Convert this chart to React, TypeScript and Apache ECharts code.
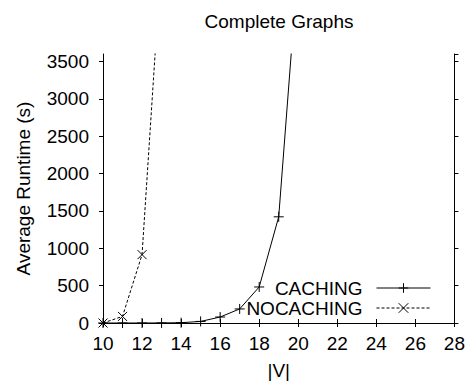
import React, { useEffect, useRef } from "react";
import * as echarts from "echarts";

const xCaching = [10, 11, 12, 13, 14, 15, 16, 17, 18, 19, 20];
const caching = [0, 0, 0, 1, 4, 21, 80, 188, 482, 1421, 4830];
const xNoCaching = [10, 11, 12, 13];
const noCaching = [0, 88, 915, 4930];

const FONT = "'Liberation Sans', Arial, sans-serif";
const FS = 19;

export default function App() {
  const ref = useRef<HTMLDivElement>(null);
  useEffect(() => {
    if (!ref.current) return;
    const chart = echarts.init(ref.current, null, { renderer: "svg" });
    const axisCommon = {
      axisLine: { show: true, lineStyle: { color: "#000", width: 1 } },
      axisTick: { show: true, length: 4, inside: false, lineStyle: { color: "#000", width: 1 } },
      splitLine: { show: false },
    };
    const plain = (v: number) => String(v);
    chart.setOption({
      animation: false,
      textStyle: { fontFamily: FONT, color: "#000" },
      graphic: [
        {
          type: "text",
          x: 279,
          y: 21.5,
          style: {
            text: "Complete Graphs",
            fill: "#000",
            font: `${FS}px ${FONT}`,
            textAlign: "center",
            textVerticalAlign: "middle",
          },
        },
      ],
      grid: { left: 103, right: 13, top: 54, bottom: 62, containLabel: false },
      legend: {
        orient: "vertical",
        align: "right",
        right: 37,
        top: 278,
        padding: 0,
        itemWidth: 54,
        itemHeight: 12,
        itemGap: 0,
        lineStyle: { width: 1 },
        itemStyle: { borderWidth: 1 },
        textStyle: { fontSize: FS, fontFamily: FONT, color: "#000", lineHeight: 20, padding: [0, 9, 0, 0] },
        data: ["CACHING", "NOCACHING"],
      },
      xAxis: [
        {
          type: "value",
          min: 10,
          max: 28,
          interval: 2,
          position: "bottom",
          name: "|V|",
          nameLocation: "middle",
          nameGap: 38,
          nameTextStyle: { fontSize: FS, fontFamily: FONT, color: "#000" },
          axisLabel: { fontSize: FS, fontFamily: FONT, color: "#000", margin: 11, formatter: plain },
          ...axisCommon,
        },
        {
          type: "value",
          min: 10,
          max: 28,
          interval: 2,
          position: "top",
          axisLabel: { show: false },
          ...axisCommon,
        },
      ],
      yAxis: [
        {
          type: "value",
          min: 0,
          max: 3600,
          interval: 500,
          position: "left",
          name: "Average Runtime (s)",
          nameLocation: "middle",
          nameGap: 70,
          nameTextStyle: { fontSize: FS, fontFamily: FONT, color: "#000" },
          axisLabel: { fontSize: FS, fontFamily: FONT, color: "#000", margin: 14, showMaxLabel: false, formatter: plain },
          ...axisCommon,
        },
        {
          type: "value",
          min: 0,
          max: 3600,
          interval: 500,
          position: "right",
          axisLabel: { show: false },
          ...axisCommon,
        },
      ],
      series: [
        {
          name: "CACHING",
          type: "line",
          data: xCaching.map((x, i) => [x, caching[i]]),
          symbol: "path://M0,5L10,5M5,0L5,10",
          symbolSize: 10,
          showSymbol: true,
          clip: true,
          lineStyle: { color: "#000", width: 1, type: "solid" },
          itemStyle: { color: "#000", borderColor: "#000", borderWidth: 1 },
          emphasis: { disabled: true },
        },
        {
          name: "NOCACHING",
          type: "line",
          data: xNoCaching.map((x, i) => [x, noCaching[i]]),
          symbol: "path://M0,0L10,10M10,0L0,10",
          symbolSize: 9,
          showSymbol: true,
          clip: true,
          lineStyle: { color: "#000", width: 1, type: [3, 2] },
          itemStyle: { color: "#000", borderColor: "#000", borderWidth: 1 },
          emphasis: { disabled: true },
        },
      ],
    });
    return () => chart.dispose();
  }, []);
  return <div ref={ref} style={{ width: 468, height: 385, position: "absolute", left: 0, top: 0 }} />;
}
